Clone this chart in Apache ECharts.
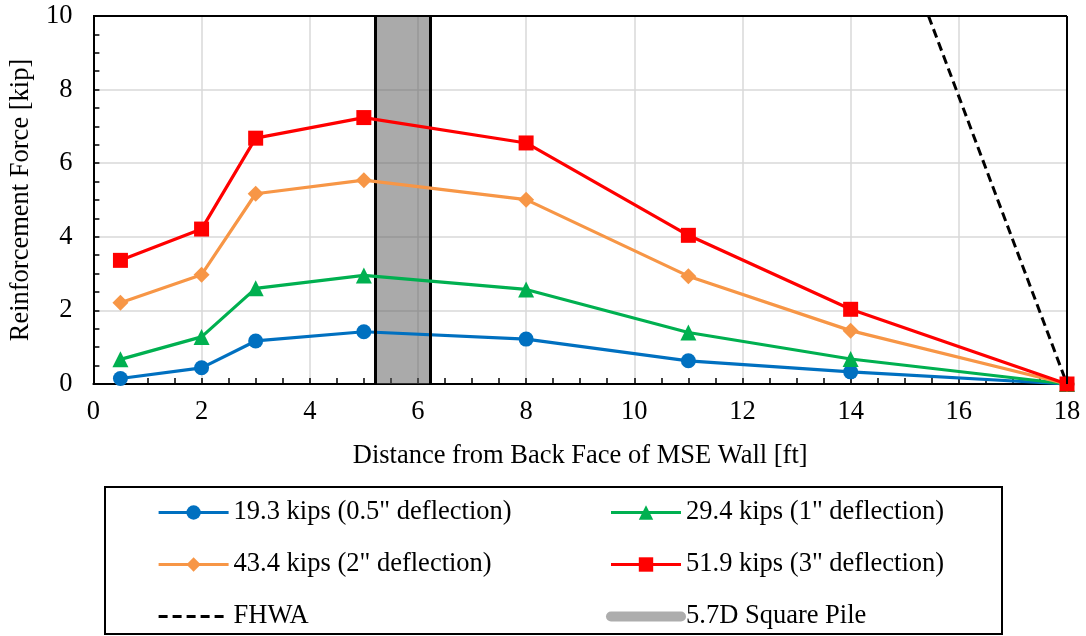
<!DOCTYPE html>
<html><head><meta charset="utf-8">
<script src="https://cdn.jsdelivr.net/npm/echarts@6/dist/echarts.min.js"></script>
<style>html,body{margin:0;padding:0;background:#fff}#c{width:1086px;height:636px}</style>
</head><body><div id="c"></div>
<script>
const distances = [0.5, 2, 3, 5, 8, 11, 14, 18];
const kips193 = [0.15, 0.44, 1.17, 1.42, 1.22, 0.63, 0.33, 0];
const kips294 = [0.67, 1.28, 2.60, 2.95, 2.57, 1.40, 0.68, 0];
const kips434 = [2.21, 2.97, 5.17, 5.54, 5.01, 2.93, 1.45, 0];
const kips519 = [3.36, 4.21, 6.68, 7.24, 6.55, 4.04, 2.03, 0];
const fhwaX = [15.44, 18];
const fhwaY = [10, 0];
const pileRange = [5.22, 6.22];
const seriesNames = ['19.3 kips (0.5" deflection)', '29.4 kips (1" deflection)', '43.4 kips (2" deflection)', '51.9 kips (3" deflection)', 'FHWA', '5.7D Square Pile'];

const FONT = 'Liberation Serif';
const FS = 26.5;
const pair = (xs, ys) => xs.map((x, i) => [x, ys[i]]);

function lineSeries(name, ys, color, symbol, size, z) {
  return {
    type: 'line', name, data: pair(distances, ys), z,
    symbol, symbolSize: size, showSymbol: true,
    lineStyle: { color, width: 3.2 }, itemStyle: { color },
    animation: false
  };
}

const chart = echarts.init(document.getElementById('c'), null, { renderer: 'canvas' });
const legendText = { fontFamily: FONT, fontSize: FS, color: '#000' };
const legendCommon = {
  orient: 'vertical', top: 499, itemGap: 25, itemWidth: 70, itemHeight: 18, padding: 0,
  textStyle: legendText, lineStyle: { width: 3.2 }, selectedMode: false
};
chart.setOption({
  animation: false,
  backgroundColor: '#fff',
  grid: { left: 93, right: 19, top: 16, bottom: 252, containLabel: false },
  xAxis: {
    type: 'value', min: 0, max: 18, interval: 2,
    name: 'Distance from Back Face of MSE Wall [ft]', nameLocation: 'middle', nameGap: 59,
    nameTextStyle: { fontFamily: FONT, fontSize: FS, color: '#000' },
    axisLine: { lineStyle: { color: '#000', width: 2 } },
    axisTick: { show: true, inside: true, length: 6, lineStyle: { color: '#000', width: 1.5 } },
    minorTick: { show: true, splitNumber: 4, length: 6, lineStyle: { color: '#000', width: 1.5 } },
    axisLabel: { fontFamily: FONT, fontSize: FS, color: '#000', margin: 15 },
    splitLine: { show: true, lineStyle: { color: '#d9d9d9', width: 1.5 } }
  },
  yAxis: {
    type: 'value', min: 0, max: 10, interval: 2,
    name: 'Reinforcement Force [kip]', nameLocation: 'middle', nameGap: 55,
    nameTextStyle: { fontFamily: FONT, fontSize: FS, color: '#000' },
    axisLine: { show: true, lineStyle: { color: '#000', width: 2 } },
    axisTick: { show: true, inside: true, length: 6, lineStyle: { color: '#000', width: 1.5 } },
    minorTick: { show: true, splitNumber: 4, length: 6, lineStyle: { color: '#000', width: 1.5 } },
    axisLabel: { fontFamily: FONT, fontSize: FS, color: '#000', margin: 21 },
    splitLine: { show: true, lineStyle: { color: '#d9d9d9', width: 1.5 } }
  },
  legend: [
    Object.assign({}, legendCommon, {
      left: 157,
      data: [seriesNames[0], seriesNames[2],
        { name: seriesNames[4], itemStyle: { opacity: 0 }, lineStyle: { width: 3 } }]
    }),
    Object.assign({}, legendCommon, {
      left: 606,
      data: [seriesNames[1], seriesNames[3],
        { name: seriesNames[5], itemStyle: { opacity: 0 }, lineStyle: { width: 10, cap: 'round', color: '#adadad' } }]
    })
  ],
  graphic: [
    { type: 'rect', shape: { x: 105, y: 487, width: 897, height: 147 }, style: { fill: 'none', stroke: '#000', lineWidth: 2 }, silent: true },
    { type: 'line', shape: { x1: 93, y1: 16, x2: 1067, y2: 16 }, style: { stroke: '#000', lineWidth: 2 }, silent: true, z: 100 },
    { type: 'line', shape: { x1: 1067, y1: 16, x2: 1067, y2: 384 }, style: { stroke: '#000', lineWidth: 2 }, silent: true, z: 100 }
  ],
  series: [
    {
      type: 'line', name: 'FHWA', data: pair(fhwaX, fhwaY), z: 3, symbol: 'none',
      lineStyle: { color: '#000', width: 3, type: [9, 5] }, itemStyle: { color: '#000' }
    },
    lineSeries(seriesNames[0], kips193, '#0070C0', 'circle', 15, 4),
    lineSeries(seriesNames[1], kips294, '#00B050', 'triangle', 16, 5),
    lineSeries(seriesNames[2], kips434, '#F79646', 'diamond', 16, 6),
    lineSeries(seriesNames[3], kips519, '#FF0000', 'rect', 15, 7),
    {
      type: 'line', name: seriesNames[5], data: [], z: 10, symbol: 'none',
      lineStyle: { color: '#adadad', width: 10 }, itemStyle: { color: '#adadad' },
      markArea: {
        silent: true,
        itemStyle: { color: 'rgba(85,85,85,0.5)', borderWidth: 0 },
        data: [[{ xAxis: pileRange[0], yAxis: 0 }, { xAxis: pileRange[1], yAxis: 10 }]]
      },
      markLine: {
        silent: true, symbol: 'none', label: { show: false },
        lineStyle: { color: '#000', width: 3, type: 'solid' },
        data: [{ xAxis: pileRange[0] }, { xAxis: pileRange[1] }]
      }
    }
  ]
});
</script></body></html>
